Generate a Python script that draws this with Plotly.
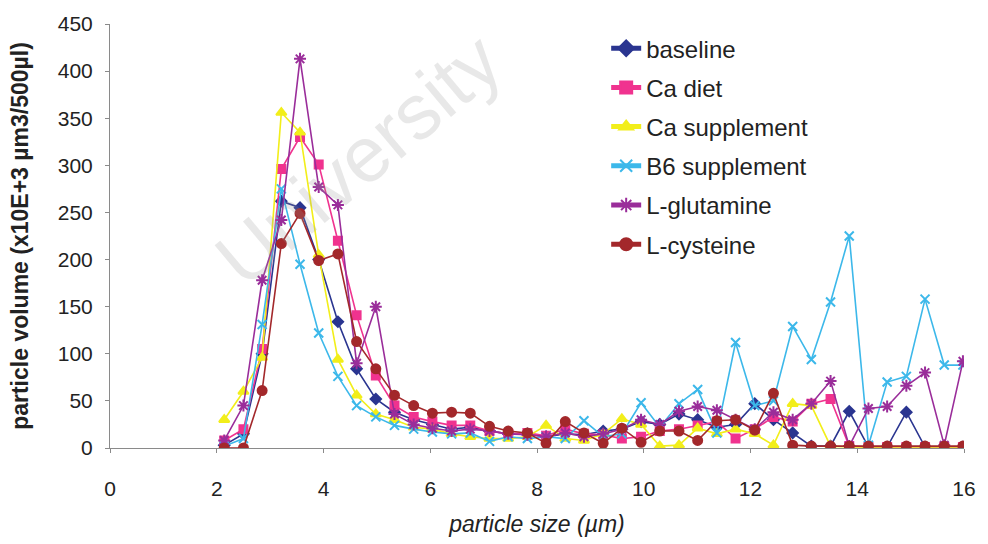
import plotly.graph_objects as go

# particle size (µm) – bin centres
size_um = [2.14, 2.50, 2.85, 3.21, 3.56, 3.91, 4.27, 4.62, 4.98, 5.33,
           5.69, 6.04, 6.40, 6.75, 7.11, 7.46, 7.82, 8.17, 8.53, 8.88,
           9.24, 9.59, 9.95, 10.30, 10.66, 11.01, 11.37, 11.72, 12.08, 12.43,
           12.79, 13.14, 13.50, 13.85, 14.21, 14.56, 14.92, 15.27, 15.63, 15.98]

baseline = [3, 15, 100, 262, 255, 200, 134, 84, 52, 38,
            30, 25, 20, 22, 18, 15, 15, 12, 15, 14,
            18, 20, 28, 25, 36, 30, 22, 25, 47, 30,
            16, 2, 2, 39, 1, 1, 38, 1, 1, 1]

ca_diet = [8, 20, 105, 296, 330, 301, 220, 141, 77, 45,
           33, 28, 24, 24, 18, 15, 16, 13, 20, 15,
           14, 10, 12, 18, 20, 24, 28, 10, 20, 33,
           28, 47, 52, 2, 1, 1, 1, 1, 1, 1]

ca_supplement = [30, 60, 96, 356, 335, 205, 94, 56, 36, 30,
                 22, 20, 15, 12, 10, 10, 12, 24, 10, 8,
                 15, 31, 25, 2, 3, 21, 15, 20, 15, 3,
                 47, 45, 2, 1, 1, 1, 1, 1, 1, 1]

b6_supplement = [2, 10, 131, 275, 195, 122, 76, 45, 33, 24,
                 20, 17, 15, 16, 7, 12, 10, 12, 10, 29,
                 12, 15, 48, 22, 47, 62, 16, 112, 45, 50,
                 129, 94, 155, 225, 3, 70, 76, 158, 88, 88]

l_glutamine = [8, 45, 178, 242, 413, 277, 258, 90, 150, 36,
               25, 21, 18, 20, 18, 15, 14, 12, 16, 12,
               15, 20, 30, 25, 39, 44, 40, 30, 20, 38,
               30, 47, 71, 2, 42, 44, 66, 80, 3, 92]

l_cysteine = [0, 0, 61, 217, 249, 199, 206, 113, 84, 56,
              45, 37, 38, 37, 23, 18, 16, 5, 28, 16,
              5, 21, 6, 18, 18, 8, 29, 30, 19, 58,
              3, 2, 2, 2, 2, 2, 2, 2, 2, 2]

series_names = ["baseline", "Ca diet", "Ca supplement", "B6 supplement",
                "L-glutamine", "L-cysteine"]
series_values = [baseline, ca_diet, ca_supplement, b6_supplement,
                 l_glutamine, l_cysteine]
colors = ["#2a3590", "#f0338f", "#f2ee1a", "#3cb8ea", "#9a2d9a", "#a3282b"]
symbols = ["diamond", "square", "triangle-up", "x-thin-open",
           "asterisk-open", "circle"]
sizes = [8, 8, 9, 9, 10, 9]

y_ticks = [0, 50, 100, 150, 200, 250, 300, 350, 400, 450]
x_ticks = [0, 2, 4, 6, 8, 10, 12, 14, 16]

font_main = "Liberation Sans, Arial, sans-serif"

fig = go.Figure()

# faint scan watermark (drawn first, beneath the data)
fig.add_annotation(text="University", xref="paper", yref="paper",
                   x=0.29, y=0.68, xanchor="center", yanchor="middle",
                   showarrow=False, textangle=-40,
                   font=dict(size=78, color="rgba(150,150,150,0.22)",
                             family=font_main))

for name, vals, col, sym, sz in zip(series_names, series_values, colors,
                                    symbols, sizes):
    fig.add_trace(go.Scatter(
        x=size_um, y=vals, name=name, mode="lines+markers",
        legendgroup=name,
        line=dict(color=col, width=1.6),
        marker=dict(symbol=sym, size=sz, color=col,
                    line=dict(color=col, width=2)),
    ))

fig.update_layout(
    width=988, height=544,
    margin=dict(l=110, r=18, t=20, b=94),
    paper_bgcolor="white", plot_bgcolor="white",
    font=dict(family=font_main, color="#222222", size=21),
    showlegend=True,
    legend=dict(x=0.581, y=0.995, xanchor="left", yanchor="top",
                bgcolor="rgba(0,0,0,0)", font=dict(size=24, color="#222222"),
                tracegroupgap=5, itemsizing="constant"),
    xaxis=dict(range=[0, 16], tickvals=x_ticks, ticktext=[str(v) for v in x_ticks],
               showgrid=False, zeroline=False, showline=True,
               linecolor="#8a8a8a", linewidth=1, ticks="outside",
               ticklen=4, tickcolor="#8a8a8a", ticklabelstandoff=18,
               tickfont=dict(size=21, color="#222222"),
               title=dict(text="<i>particle size (µm)</i>",
                          font=dict(size=23, color="#222222"), standoff=16)),
    yaxis=dict(range=[0, 450], tickvals=y_ticks, ticktext=[str(v) for v in y_ticks],
               showgrid=False, zeroline=False, showline=True,
               linecolor="#8a8a8a", linewidth=1, ticks="outside",
               ticklen=4, tickcolor="#8a8a8a", ticklabelstandoff=8,
               tickfont=dict(size=21, color="#222222"),
               title=dict(text="<b>particle volume (x10E+3 µm3/500µl)</b>",
                          font=dict(size=23, color="#222222"), standoff=22)),
)

fig.write_html("out.html")
